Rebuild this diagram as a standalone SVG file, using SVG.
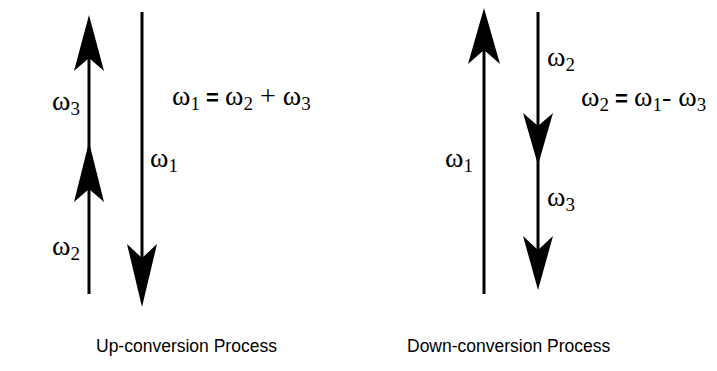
<svg xmlns="http://www.w3.org/2000/svg" width="717" height="371" viewBox="0 0 717 371">
<style>
.shaft{stroke:#000;stroke-width:3;fill:none}
.head{fill:#000;stroke:none}
.w{font-family:"Liberation Serif","Times New Roman",serif;font-size:28px;fill:#000}
.sub{font-size:19px}
.eq{font-family:"Liberation Sans",Arial,sans-serif;font-weight:bold;font-size:22px}
.cap{font-family:"Liberation Sans",Arial,sans-serif;font-size:17.5px;fill:#000}
</style>
<rect width="717" height="371" fill="#fff"/>
<g id="connectors">
<line class="shaft" x1="89" y1="294" x2="89" y2="40"/>
<path class="head" d="M89,15 L104,71 L89,58 L74,71 Z"/>
<path class="head" d="M89,142 L104,202 L89,189 L74,202 Z"/>
<line class="shaft" x1="142" y1="12" x2="142" y2="280"/>
<path class="head" d="M142,307 L157,244 L142,258 L127,244 Z"/>
<line class="shaft" x1="484" y1="294" x2="484" y2="35"/>
<path class="head" d="M484,8 L500,64 L484,50 L468,64 Z"/>
<line class="shaft" x1="538" y1="12" x2="538" y2="265"/>
<path class="head" d="M538,165 L553,113 L538,126 L523,113 Z"/>
<path class="head" d="M538,290 L553,236 L538,250 L523,236 Z"/>
</g>
<g id="labels-up">
<text class="w" x="52" y="110">ω<tspan class="sub" dy="5">3</tspan></text>
<text class="w" x="52" y="255">ω<tspan class="sub" dy="5">2</tspan></text>
<text class="w" x="150" y="167">ω<tspan class="sub" dy="5">1</tspan></text>
<text class="w" x="172" y="105">ω<tspan class="sub" dy="5">1</tspan><tspan class="eq" dy="-5"> = </tspan>ω<tspan class="sub" dy="5">2</tspan><tspan dy="-5"> + </tspan>ω<tspan class="sub" dy="5">3</tspan></text>
<text class="cap" x="96" y="352">Up-conversion Process</text>
</g>
<g id="labels-down">
<text class="w" x="547" y="66">ω<tspan class="sub" dy="5">2</tspan></text>
<text class="w" x="445" y="167">ω<tspan class="sub" dy="5">1</tspan></text>
<text class="w" x="547" y="206">ω<tspan class="sub" dy="5">3</tspan></text>
<text class="w" x="581" y="106">ω<tspan class="sub" dy="5">2</tspan><tspan class="eq" dy="-5"> = </tspan>ω<tspan class="sub" dy="5">1</tspan><tspan dy="-5">- </tspan>ω<tspan class="sub" dy="5">3</tspan></text>
<text class="cap" x="407" y="352">Down-conversion Process</text>
</g>
</svg>
